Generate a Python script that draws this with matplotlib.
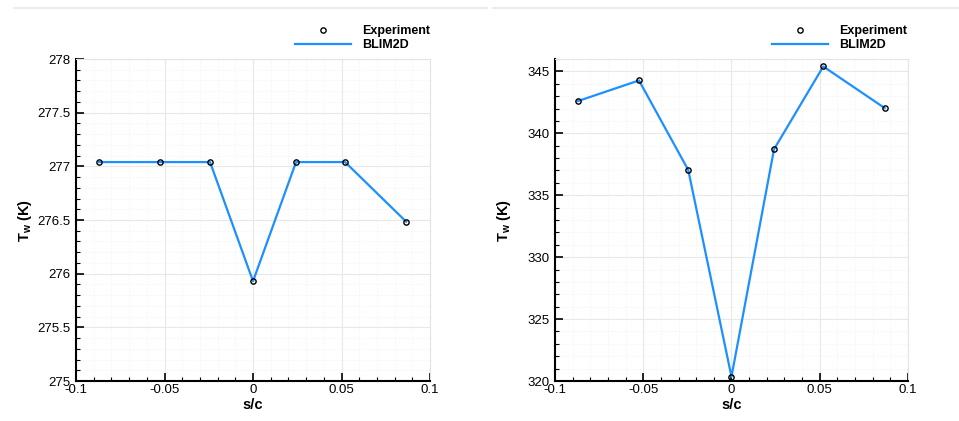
import matplotlib
matplotlib.use("Agg")
import matplotlib.pyplot as plt
from matplotlib.ticker import MultipleLocator, FuncFormatter
from matplotlib.lines import Line2D

plt.rcParams['font.family'] = ['Liberation Sans', 'DejaVu Sans']
plt.rcParams['axes.unicode_minus'] = False
plt.rcParams['mathtext.fontset'] = 'custom'
plt.rcParams['mathtext.rm'] = 'Liberation Sans:bold'
plt.rcParams['mathtext.it'] = 'Liberation Sans:bold'
plt.rcParams['mathtext.bf'] = 'Liberation Sans:bold'

# data
s_c_left = [-0.087, -0.0525, -0.0243, 0.0, 0.0243, 0.052, 0.0865]
tw_left = [277.04, 277.04, 277.04, 275.93, 277.04, 277.04, 276.485]

s_c_right = [-0.0871, -0.0524, -0.0245, 0.0, 0.0241, 0.052, 0.0868]
tw_right = [342.6, 344.27, 337.04, 320.35, 338.71, 345.4, 342.04]

blue = "#1e8fff"
fmt = FuncFormatter(lambda v, p: "%g" % round(v, 6))

fig = plt.figure(figsize=(9.59, 4.21), dpi=100)
ax1 = fig.add_axes([0.0793, 0.0950, 0.3691, 0.7648])
ax2 = fig.add_axes([0.5787, 0.0950, 0.3681, 0.7648])


def style(ax, ylo, yhi, ymaj, ymin):
    ax.set_xlim(-0.1, 0.1)
    ax.set_ylim(ylo, yhi)
    ax.xaxis.set_major_locator(MultipleLocator(0.05))
    ax.xaxis.set_minor_locator(MultipleLocator(0.01))
    ax.yaxis.set_major_locator(MultipleLocator(ymaj))
    ax.yaxis.set_minor_locator(MultipleLocator(ymin))
    ax.xaxis.set_major_formatter(fmt)
    ax.yaxis.set_major_formatter(fmt)
    ax.tick_params(which='both', direction='in', top=False, right=False,
                   labelsize=9.5, colors='black')
    ax.tick_params(which='major', length=5.5, width=1.2)
    ax.tick_params(which='minor', length=3, width=0.8)
    ax.tick_params(axis='y', pad=4)
    ax.tick_params(axis='x', pad=2.5)
    ax.grid(which='major', color='#e8e8e8', linewidth=0.8)
    ax.grid(which='minor', color='#f0f0f0', linewidth=0.6, linestyle=':')
    ax.set_axisbelow(True)
    for side in ['left', 'bottom']:
        ax.spines[side].set_linewidth(1.5)
    for side in ['top', 'right']:
        ax.spines[side].set_color('#e4e4e4')
        ax.spines[side].set_linewidth(0.8)
    ax.set_xlabel("s/c", fontsize=10.5, fontweight='bold', labelpad=1)
    ax.set_ylabel(r"T$_{w}$ (K)", fontsize=10.5, fontweight='bold')
    ax.yaxis.set_label_coords(-0.118, 0.5)


for ax, x, y in [(ax1, s_c_left, tw_left), (ax2, s_c_right, tw_right)]:
    ax.plot(x, y, color=blue, linewidth=1.6, label="BLIM2D", zorder=3)
    ax.plot(x, y, linestyle='none', marker='o', markersize=3.8,
            markerfacecolor='none', markeredgecolor='black',
            markeredgewidth=1.0, label="Experiment", zorder=4)
    h, l = ax.get_legend_handles_labels()
    ax.legend(h[::-1], l[::-1], loc='upper left',
              bbox_to_anchor=(0, 0), frameon=False,
              prop={'weight': 'bold', 'size': 9},
              handlelength=4.5, handletextpad=0.9, labelspacing=0.15,
              borderpad=0, borderaxespad=0)

style(ax1, 275, 278, 0.5, 0.1)
style(ax2, 320, 346, 5, 1)

# place legends in figure coords
ax1.get_legend().set_bbox_to_anchor((295 / 959, 1 - 25 / 421), transform=fig.transFigure)
ax2.get_legend().set_bbox_to_anchor((772 / 959, 1 - 25 / 421), transform=fig.transFigure)

# thin separator lines at the top
fig.add_artist(Line2D([14 / 959, 487 / 959], [1 - 8 / 421] * 2, color='#e8e8e8', linewidth=1.2))
fig.add_artist(Line2D([493 / 959, 1.0], [1 - 8 / 421] * 2, color='#e8e8e8', linewidth=1.2))

fig.savefig("out.png", dpi=100)
